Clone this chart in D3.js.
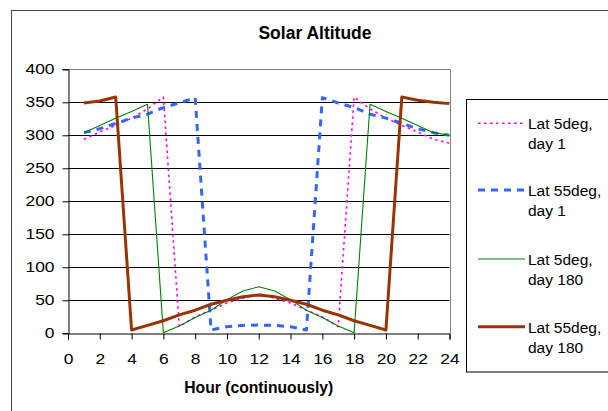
<!DOCTYPE html>
<html>
<head>
<meta charset="utf-8">
<script src="https://cdn.jsdelivr.net/npm/d3@7"></script>
<style>
html, body { margin: 0; padding: 0; background: #fff; }
svg { display: block; font-family: "Liberation Sans", Arial, sans-serif; }
</style>
</head>
<body>
<svg id="chart" width="608" height="411"></svg>
<script>
// ---- Data ----
const hours = [1,2,3,4,5,6,7,8,9,10,11,12,13,14,15,16,17,18,19,20,21,22,23,24];
const lat5Day1   = [294,305,315,326,340,358,10,25,35,46,53,60,53,46,35,25,10,358,340,326,315,305,294,288];
const lat55Day1  = [304,310,318,326,332,342,349,357,5,10,12,12.5,12,10,5,357,349,342,332,326,318,310,304,300];
const lat5Day180 = [304,315,326,336,347,1,11,24,35,51,64,70.5,64,51,35,24,11,1,347,336,326,315,304,300];
const lat55Day180= [349,352,358,5,12,19,28,35,44,50,55.5,58,55.5,50,44,35,28,19,12,5,358,353,350,348];
const seriesNames = [["Lat 5deg,","day 1"],["Lat 55deg,","day 1"],["Lat 5deg,","day 180"],["Lat 55deg,","day 180"]];
const yTicks = [0,50,100,150,200,250,300,350,400];
const xTicks = [0,2,4,6,8,10,12,14,16,18,20,22,24];
const titleText = "Solar Altitude";
const xTitle = "Hour (continuously)";

const styles = [
  {color:"#FF00FF", width:1.6, dash:"2.5,3.5"},
  {color:"#3366FF", width:3, dash:"7,6"},
  {color:"#008000", width:1.1, dash:null},
  {color:"#993300", width:3, dash:null}
];
const allSeries = [lat5Day1, lat55Day1, lat5Day180, lat55Day180];

const svg = d3.select("#chart");

// outer frame
svg.append("rect").attr("x",11.5).attr("y",10.5).attr("width",640).attr("height",440)
  .attr("fill","none").attr("stroke","#444").attr("stroke-width",1);

const L = 68, R = 449.5, T = 69.3, B = 333.3;
const x = d3.scaleLinear().domain([0,24]).range([L,R]);
const y = d3.scaleLinear().domain([0,400]).range([B,T]);

// gridlines
svg.append("g").selectAll("line").data(yTicks.filter(d=>d>0 && d<400)).join("line")
  .attr("x1",L).attr("x2",R).attr("y1",d=>Math.round(y(d))+0.5).attr("y2",d=>Math.round(y(d))+0.5)
  .attr("stroke","#000").attr("stroke-width",1);

// plot border top & right (gray)
svg.append("path")
  .attr("d",`M${L},${Math.round(T)+0.5}H${Math.round(R)+0.5}V${Math.round(B)}`)
  .attr("fill","none").attr("stroke","#808080").attr("stroke-width",1);

// axes
const SX = 1.2;
const yAxis = d3.axisLeft(y).tickValues(yTicks).tickSize(6).tickPadding(8);
const gy = svg.append("g").attr("transform",`translate(${L+0.5},0)`).call(yAxis);
const xAxis = d3.axisBottom(x).tickValues(xTicks).tickSize(6).tickPadding(14);
const gx = svg.append("g").attr("transform",`translate(0,${Math.round(B)+0.5})`).call(xAxis);
[gy,gx].forEach(g=>{
  g.select(".domain").attr("stroke","#000");
  g.selectAll(".tick line").attr("stroke","#000");
  g.selectAll("text").attr("font-size","14.5px").attr("fill","#000")
   .attr("font-family",'"Liberation Sans", Arial, sans-serif');
});
gy.selectAll("text").attr("x",-14/SX).attr("transform",`scale(${SX},1)`);
gx.selectAll("text").attr("transform",`scale(${SX},1)`);

// clip
svg.append("clipPath").attr("id","plotclip").append("rect")
  .attr("x",L).attr("y",T).attr("width",R-L).attr("height",B-T);

const line = d3.line().x((d,i)=>x(hours[i])).y(d=>y(d));
const gl = svg.append("g").attr("clip-path","url(#plotclip)");
allSeries.forEach((s,i)=>{
  gl.append("path").datum(s).attr("d",line)
    .attr("fill","none").attr("stroke",styles[i].color)
    .attr("stroke-width",styles[i].width)
    .attr("stroke-dasharray",styles[i].dash)
    .attr("stroke-linejoin","round");
});

// title
svg.append("text").attr("x",315).attr("y",39).attr("text-anchor","middle")
  .attr("font-size","17.5px").attr("font-weight","bold").text(titleText);
svg.append("text").attr("x",(L+R)/2).attr("y",393).attr("text-anchor","middle")
  .attr("font-size","15.7px").attr("font-weight","bold").text(xTitle);

// legend
svg.append("rect").attr("x",466.5).attr("y",99.5).attr("width",200).attr("height",272.5)
  .attr("fill","#fff").attr("stroke","#000").attr("stroke-width",1);
const legY = [123.3,190,259,326.7];
seriesNames.forEach((nm,i)=>{
  const g = svg.append("g");
  g.append("line").attr("x1",478).attr("x2",525).attr("y1",legY[i]).attr("y2",legY[i])
    .attr("stroke",styles[i].color).attr("stroke-width",styles[i].width)
    .attr("stroke-dasharray",styles[i].dash);
  const t = g.append("text").attr("x",528).attr("y",legY[i]+6).attr("font-size","15.5px");
  t.append("tspan").attr("x",528).text(nm[0]);
  t.append("tspan").attr("x",528).attr("dy",20).text(nm[1]);
});
</script>
</body>
</html>
